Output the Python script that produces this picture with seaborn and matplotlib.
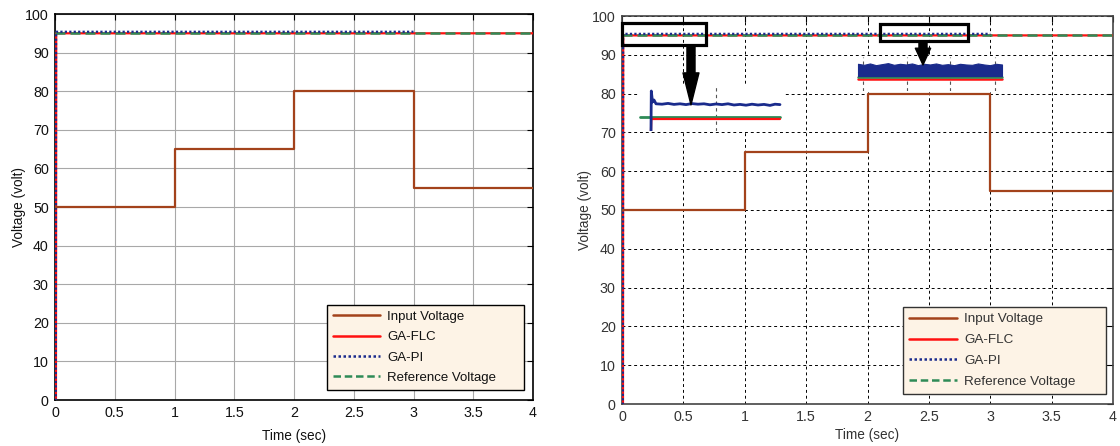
import numpy as np
import pandas as pd
import matplotlib
matplotlib.use("Agg")
import matplotlib.pyplot as plt
import seaborn as sns
from matplotlib.lines import Line2D
from matplotlib.patches import Rectangle, FancyArrowPatch, ArrowStyle

# ---------------- data ----------------
input_time = [0, 1, 1, 2, 2, 3, 3, 4]
input_volt = [50, 50, 65, 65, 80, 80, 55, 55]
flc_time = [0, 0.008, 0.010, 4]
flc_volt = [0, 0, 95.0, 95.0]
pi_time = [0, 0.007, 0.009, 3.0]
pi_volt = [0, 0, 95.4, 95.4]
ref_time = [0, 4]
ref_volt = [95.0, 95.0]

series_names = ["Input Voltage", "GA-FLC", "GA-PI", "Reference Voltage"]
x_ticks = [0, 0.5, 1, 1.5, 2, 2.5, 3, 3.5, 4]
x_tick_labels = ["0", "0.5", "1", "1.5", "2", "2.5", "3", "3.5", "4"]
y_ticks = [0, 10, 20, 30, 40, 50, 60, 70, 80, 90, 100]
x_label = "Time (sec)"
y_label = "Voltage (volt)"

# zoom 1 : start-up transient (local time window)
zoom1_ref_time = [0.002, 0.142]
zoom1_ref_volt = [95.0, 95.0]
zoom1_flc_time = [0.013, 0.0133, 0.142]
zoom1_flc_volt = [94.3, 94.9, 94.9]
zoom1_pi_time = [0.013, 0.0133, 0.0145, 0.016, 0.018, 0.024, 0.030, 0.036, 0.042,
                 0.048, 0.054, 0.060, 0.066, 0.072, 0.078, 0.084, 0.090, 0.096,
                 0.102, 0.108, 0.114, 0.120, 0.126, 0.132, 0.137, 0.142]
zoom1_pi_volt = [94.3, 96.3, 95.75, 95.85, 95.66, 95.64, 95.68, 95.63, 95.66,
                 95.62, 95.67, 95.64, 95.66, 95.61, 95.65, 95.62, 95.66, 95.6,
                 95.63, 95.59, 95.64, 95.6, 95.63, 95.58, 95.64, 95.62]

# zoom 2 : steady-state ripple (2 s .. 3 s)
zoom2_time = [2.02, 2.06, 2.10, 2.14, 2.18, 2.22, 2.26, 2.30, 2.34, 2.38, 2.42,
              2.46, 2.50, 2.54, 2.58, 2.62, 2.66, 2.70, 2.74, 2.78, 2.82, 2.86,
              2.90, 2.94, 2.98]
zoom2_pi_upper = [95.40, 95.37, 95.41, 95.36, 95.39, 95.42, 95.37, 95.40, 95.38,
                  95.41, 95.36, 95.40, 95.38, 95.41, 95.37, 95.39, 95.36, 95.40,
                  95.38, 95.37, 95.41, 95.38, 95.36, 95.40, 95.38]
zoom2_pi_lower = [95.04] * 25
zoom2_ref = [95.0] * 25
zoom2_flc = [94.95] * 25

# ---------------- style ----------------
C_IN = "#a3421b"
C_FLC = "#ff1010"
C_PI = "#1a2b8c"
C_REF = "#2e8b57"

sns.set_style("white")
plt.rcParams["font.family"] = ["Liberation Sans", "DejaVu Sans"]

W, H = 1120, 446
fig = plt.figure(figsize=(W / 100, H / 100), dpi=100)


def px_rect(x0, y0, x1, y1):
    return [x0 / W, 1 - y1 / H, (x1 - x0) / W, (y1 - y0) / H]


ax1 = fig.add_axes(px_rect(55, 14, 533, 400))
ax2 = fig.add_axes(px_rect(622, 16, 1113, 404))


def draw_main(ax, textcolor):
    sns.lineplot(x=flc_time, y=flc_volt, ax=ax, color=C_FLC, lw=1.6,
                 sort=False, estimator=None, zorder=3)
    sns.lineplot(x=ref_time, y=ref_volt, ax=ax, color=C_REF, lw=1.8,
                 linestyle=(0, (4, 2)), sort=False, estimator=None, zorder=4)
    sns.lineplot(x=pi_time, y=pi_volt, ax=ax, color=C_PI, lw=1.6,
                 linestyle=(0, (1, 1)), sort=False, estimator=None, zorder=5)
    sns.lineplot(x=input_time, y=input_volt, ax=ax, color=C_IN, lw=1.6,
                 sort=False, estimator=None, zorder=6)
    ax.set_xlim(0, 4)
    ax.set_ylim(0, 100)
    ax.set_xticks(x_ticks)
    ax.set_xticklabels(x_tick_labels)
    ax.set_yticks(y_ticks)
    ax.tick_params(direction="in", top=True, right=True, length=4, width=0.8,
                   labelsize=10.3, pad=4.5, colors="black", labelcolor=textcolor)
    ax.set_xlabel(x_label, fontsize=9.8, color=textcolor)
    ax.set_ylabel(y_label, fontsize=9.8, color=textcolor)
    for s in ax.spines.values():
        s.set_color("black")
        s.set_linewidth(1.2)
    ax.set_axisbelow(True)
    handles = [
        Line2D([], [], color=C_IN, lw=1.8),
        Line2D([], [], color=C_FLC, lw=1.8),
        Line2D([], [], color=C_PI, lw=1.8, linestyle=(0, (1, 1))),
        Line2D([], [], color=C_REF, lw=1.8, linestyle=(0, (3, 1.5))),
    ]
    return handles


h = draw_main(ax1, "#111111")
ax1.grid(True, color="#a8a8a8", lw=0.8, ls="-")
ax1.xaxis.set_label_coords(0.5, -0.075)
ax1.yaxis.set_label_coords(-0.061, 0.5)
leg1 = ax1.legend(h, series_names, loc="lower left",
                  bbox_to_anchor=(0.569, 0.026, 0.412, 0.225), mode="expand",
                  borderaxespad=0, fontsize=9.5, handlelength=3.6, handletextpad=0.5,
                  labelspacing=0.62, borderpad=0.45, fancybox=False, framealpha=1,
                  facecolor="#fdf3e6", edgecolor="black")
leg1.get_frame().set_linewidth(1.0)
for t in leg1.get_texts():
    t.set_color("#111111")

h = draw_main(ax2, "#333333")
ax2.grid(True, color="black", lw=0.7, ls=(0, (3, 3)))
ax2.xaxis.set_label_coords(0.5, -0.062)
ax2.yaxis.set_label_coords(-0.061, 0.5)
leg2 = ax2.legend(h, series_names, loc="lower left",
                  bbox_to_anchor=(0.572, 0.026, 0.413, 0.23), mode="expand",
                  borderaxespad=0, fontsize=9.7, handlelength=3.6, handletextpad=0.5,
                  labelspacing=0.62, borderpad=0.45, fancybox=False, framealpha=1,
                  facecolor="#fdf3e6", edgecolor="#333333")
leg2.get_frame().set_linewidth(1.0)
for t in leg2.get_texts():
    t.set_color("#333333")
for s in ax2.spines.values():
    s.set_color("#444444")

# ---------------- zoom insets ----------------
in1 = fig.add_axes(px_rect(638, 85, 783, 131))
in1.set_zorder(1)
in1.set_facecolor("white")
sns.lineplot(x=zoom1_ref_time, y=zoom1_ref_volt, ax=in1, color=C_REF, lw=2.0,
             sort=False, estimator=None)
sns.lineplot(x=zoom1_flc_time, y=zoom1_flc_volt, ax=in1, color=C_FLC, lw=1.6,
             sort=False, estimator=None)
sns.lineplot(x=zoom1_pi_time, y=zoom1_pi_volt, ax=in1, color=C_PI, lw=2.0,
             sort=False, estimator=None)
in1.set_xlim(0, 0.145)
in1.set_ylim(94.3, 96.6)
in1.set_xticks([0.078])
in1.set_yticks([])
in1.grid(True, axis="x", color="#555555", lw=0.8, ls=(0, (3, 3)))
in1.tick_params(length=0, labelbottom=False, labelleft=False)
in1.set_xlabel("")
in1.set_ylabel("")
for s in in1.spines.values():
    s.set_visible(False)

in2 = fig.add_axes(px_rect(855, 57, 1005, 91))
in2.set_zorder(1)
in2.set_facecolor("white")
in2.fill_between(zoom2_time, zoom2_pi_lower, zoom2_pi_upper, color=C_PI, lw=0.8,
                 edgecolor=C_PI, zorder=4)
sns.lineplot(x=zoom2_time, y=zoom2_flc, ax=in2, color=C_FLC, lw=1.8,
             sort=False, estimator=None, zorder=2)
sns.lineplot(x=zoom2_time, y=zoom2_ref, ax=in2, color=C_REF, lw=1.8,
             sort=False, estimator=None, zorder=3)
in2.set_xlim(2.0, 3.0)
in2.set_ylim(94.6, 95.6)
in2.set_xticks([2.053, 2.347, 2.633, 2.933])
in2.set_yticks([])
in2.grid(True, axis="x", color="#555555", lw=0.8, ls=(0, (3, 3)))
in2.set_axisbelow(True)
in2.tick_params(length=0, labelbottom=False, labelleft=False)
in2.set_xlabel("")
in2.set_ylabel("")
for s in in2.spines.values():
    s.set_visible(False)

# ---------------- highlight boxes and arrows ----------------
box1 = Rectangle((0.0, 92.5), 0.684, 5.7, fill=False, edgecolor="black", lw=2.3,
                 zorder=10, clip_on=False)
box2 = Rectangle((2.102, 93.6), 0.717, 4.3, fill=False, edgecolor="black", lw=2.3,
                 zorder=10, clip_on=False)
ax2.add_patch(box1)
ax2.add_patch(box2)

for (xa, ya, yb, hl, hw) in [(0.562, 92.5, 77.1, 23, 11.5), (2.452, 93.6, 87.4, 12, 11)]:
    arr = FancyArrowPatch((xa, ya), (xa, yb), transform=ax2.transData,
                          arrowstyle=ArrowStyle.Simple(head_length=hl, head_width=hw,
                                                       tail_width=5.8),
                          mutation_scale=1, shrinkA=0, shrinkB=0,
                          color="black", zorder=5)
    fig.add_artist(arr)

fig.savefig("out.png", dpi=100)
